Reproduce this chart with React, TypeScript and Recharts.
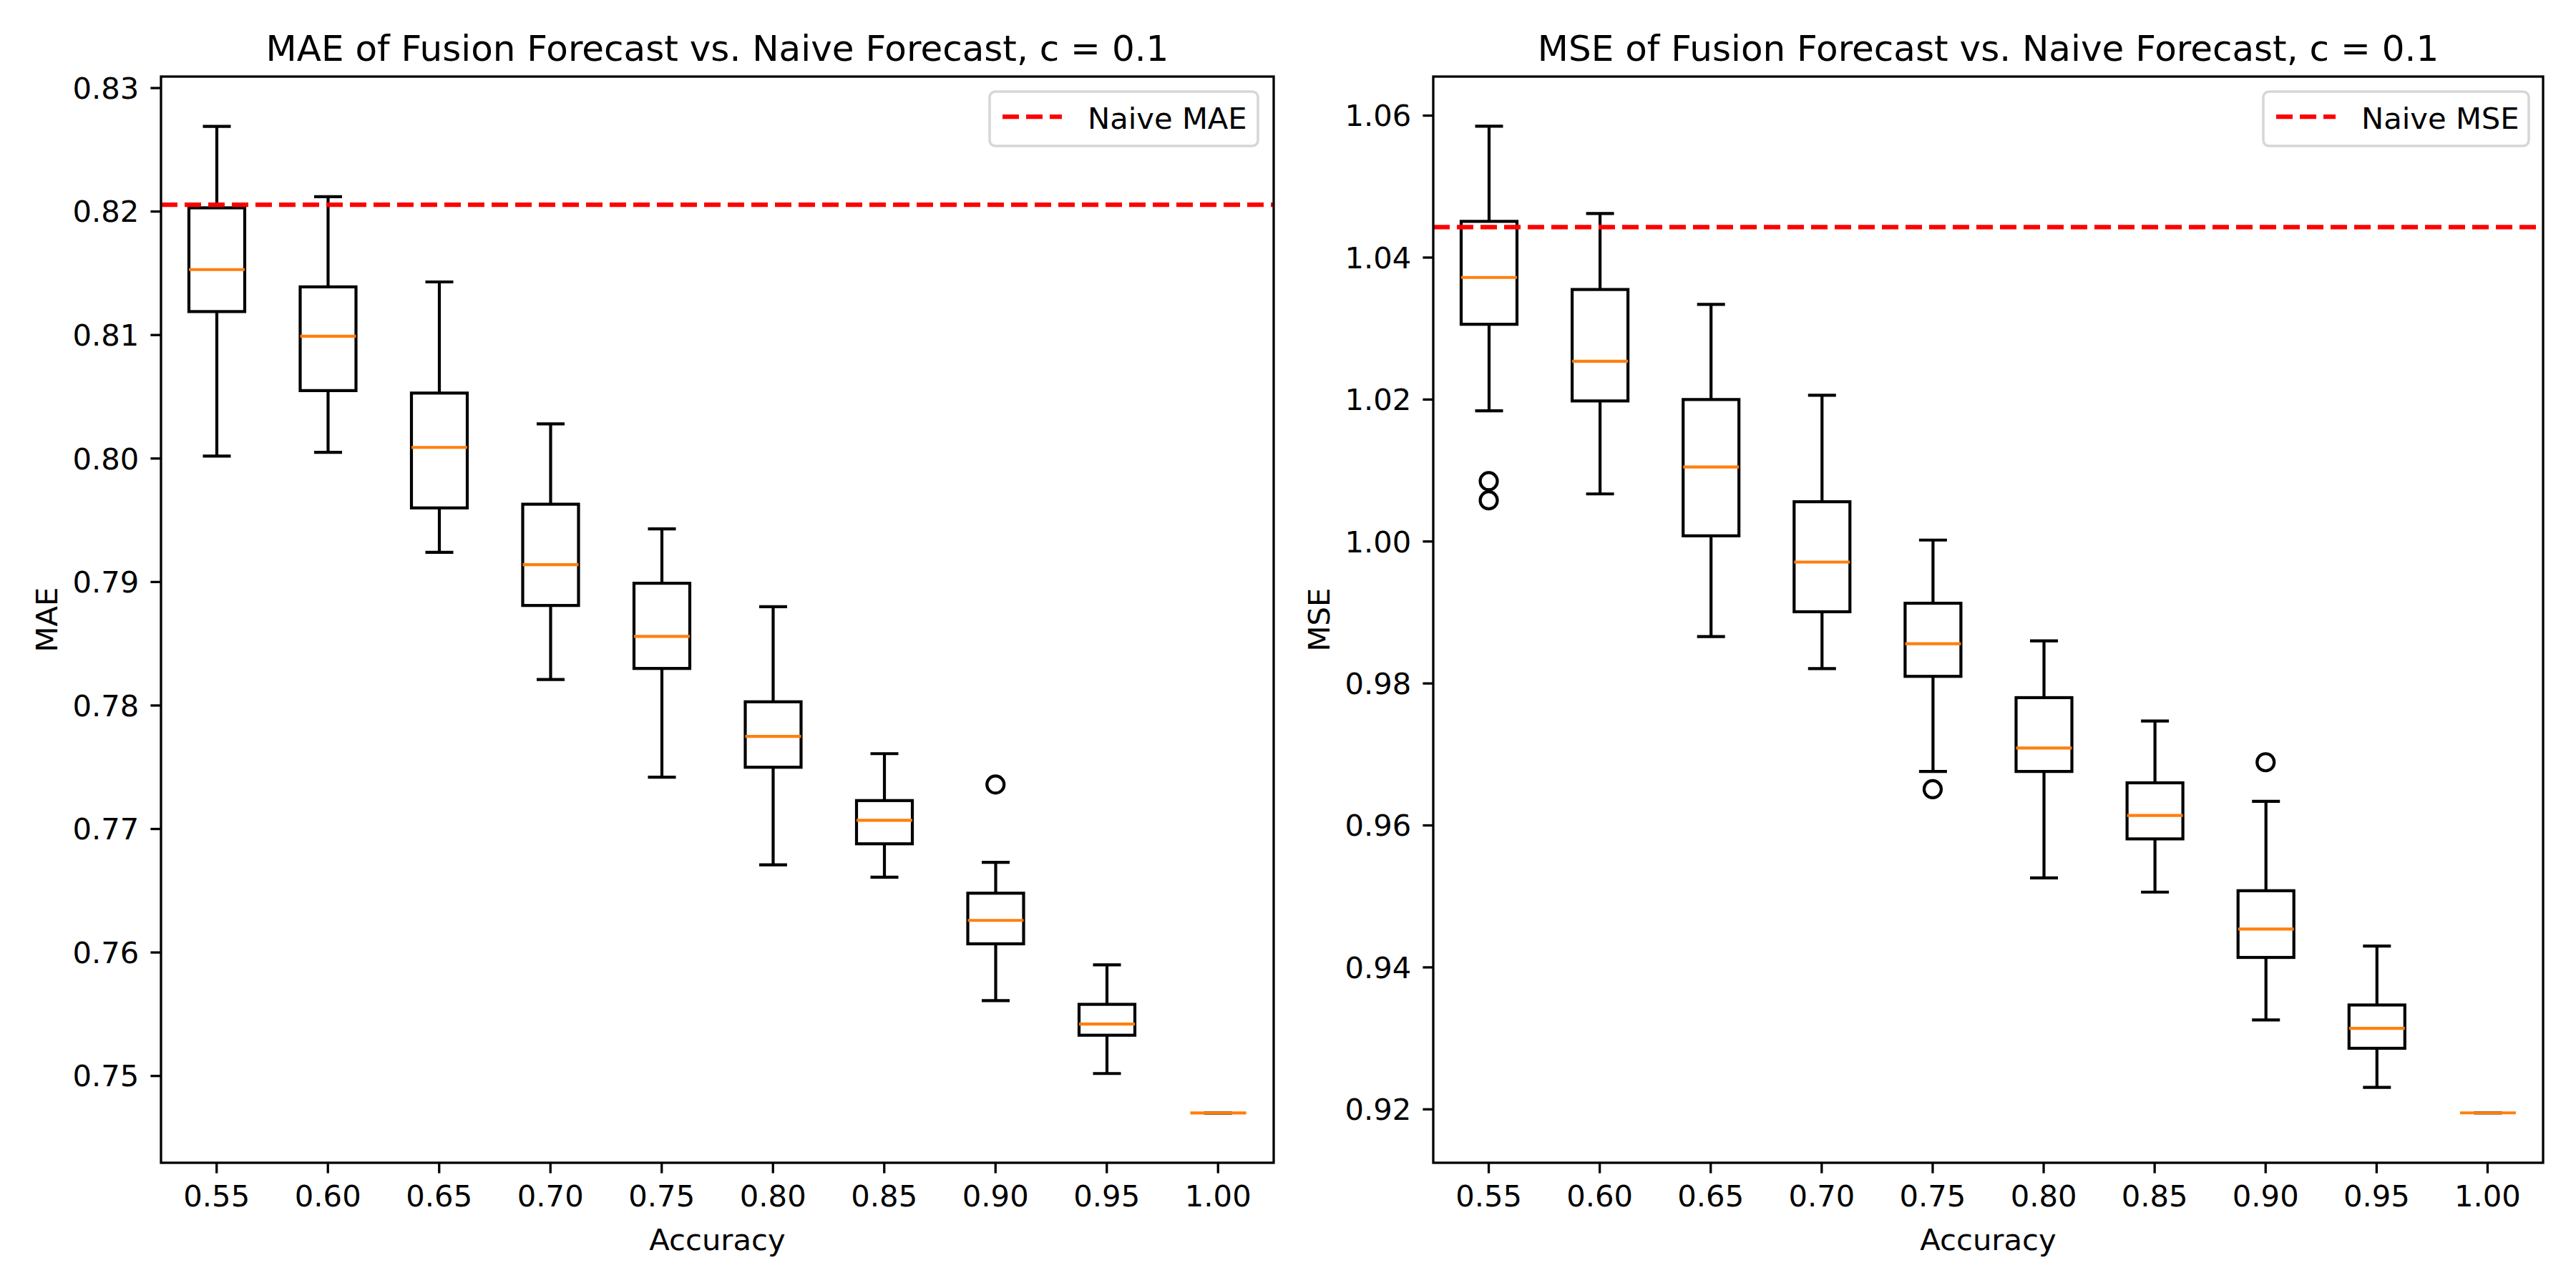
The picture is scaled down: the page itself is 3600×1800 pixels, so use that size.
import React from "react";
import {
  ComposedChart,
  Bar,
  Line,
  XAxis,
  YAxis,
  ReferenceLine,
} from "recharts";

const accuracy = ["0.55", "0.60", "0.65", "0.70", "0.75", "0.80", "0.85", "0.90", "0.95", "1.00"];

// MAE boxplot stats
const maeLow = [0.8002, 0.8005, 0.7924, 0.7821, 0.7742, 0.7671, 0.7661, 0.7561, 0.7502, 0.747];
const maeQ1 = [0.8119, 0.8055, 0.796, 0.7881, 0.783, 0.775, 0.7688, 0.7607, 0.7533, 0.747];
const maeMed = [0.8153, 0.8099, 0.8009, 0.7914, 0.7856, 0.7775, 0.7707, 0.7626, 0.7542, 0.747];
const maeQ3 = [0.8203, 0.8139, 0.8053, 0.7963, 0.7899, 0.7803, 0.7723, 0.7648, 0.7558, 0.747];
const maeHigh = [0.8269, 0.8212, 0.8143, 0.8028, 0.7943, 0.788, 0.7761, 0.7673, 0.759, 0.747];
const maeOutliers = [[], [], [], [], [], [], [], [0.7736], [], []];
const naiveMae = 0.82055;
const maeTicks = [0.75, 0.76, 0.77, 0.78, 0.79, 0.8, 0.81, 0.82, 0.83];

// MSE boxplot stats
const mseLow = [1.0184, 1.0067, 0.9866, 0.9821, 0.9676, 0.9526, 0.9506, 0.9326, 0.9231, 0.9195];
const mseQ1 = [1.0306, 1.0198, 1.0008, 0.9901, 0.981, 0.9676, 0.9581, 0.9414, 0.9286, 0.9195];
const mseMed = [1.0372, 1.0254, 1.0105, 0.9971, 0.9856, 0.9709, 0.9614, 0.9454, 0.9314, 0.9195];
const mseQ3 = [1.0451, 1.0355, 1.02, 1.0056, 0.9913, 0.978, 0.966, 0.9508, 0.9347, 0.9195];
const mseHigh = [1.0585, 1.0462, 1.0334, 1.0206, 1.0002, 0.986, 0.9747, 0.9634, 0.943, 0.9195];
const mseOutliers = [[1.0085, 1.0058], [], [], [], [0.9651], [], [], [0.9689], [], []];
const naiveMse = 1.0443;
const mseTicks = [0.92, 0.94, 0.96, 0.98, 1.0, 1.02, 1.04, 1.06];

const FONT = "DejaVu Sans";
const FS = 41.7;
const LW = 4.2;

function buildRows(low, q1, med, q3, high, outs) {
  return accuracy.map((acc, i) => ({
    acc,
    range: [low[i], high[i]],
    q1: q1[i],
    med: med[i],
    q3: q3[i],
    out1: outs[i][0] ?? null,
    out2: outs[i][1] ?? null,
  }));
}

const maeRows = buildRows(maeLow, maeQ1, maeMed, maeQ3, maeHigh, maeOutliers);
const mseRows = buildRows(mseLow, mseQ1, mseMed, mseQ3, mseHigh, mseOutliers);

function BoxShape(props: any) {
  const { x, y, width, height, payload } = props;
  const [lo, hi] = payload.range;
  const top = Math.min(y, y + height);
  const bot = Math.max(y, y + height);
  const span = hi - lo;
  const toY = (v: number) => (span === 0 ? top : top + ((hi - v) / span) * (bot - top));
  const cx = x + width / 2;
  const cap = width / 4;
  const yq1 = toY(payload.q1);
  const yq3 = toY(payload.q3);
  const ym = toY(payload.med);
  return (
    <g>
      <line x1={cx} x2={cx} y1={top} y2={yq3} stroke="#000" strokeWidth={LW} />
      <line x1={cx} x2={cx} y1={yq1} y2={bot} stroke="#000" strokeWidth={LW} />
      <line x1={cx - cap} x2={cx + cap} y1={top} y2={top} stroke="#000" strokeWidth={LW} />
      <line x1={cx - cap} x2={cx + cap} y1={bot} y2={bot} stroke="#000" strokeWidth={LW} />
      <rect x={x} y={yq3} width={width} height={Math.max(0, yq1 - yq3)} fill="none" stroke="#000" strokeWidth={LW} />
      <line x1={x} x2={x + width} y1={ym} y2={ym} stroke="#ff7f0e" strokeWidth={LW} />
    </g>
  );
}

function Flier(props: any) {
  const { cx, cy, value, index } = props;
  if (value == null || cy == null || isNaN(cy)) return <g key={"f" + index} />;
  return <circle key={"f" + index} cx={cx} cy={cy} r={12} fill="none" stroke="#000" strokeWidth={LW} />;
}

function BoxChart({ rows, domain, ticks, naive, yWidth, rightMargin }) {
  const tickStyle = { fontSize: FS, fill: "#000", fontFamily: FONT };
  return (
    <ComposedChart
      width={1800}
      height={1800}
      data={rows}
      margin={{ top: 107, right: rightMargin, bottom: 0, left: 0 }}
    >
      <XAxis
        dataKey="acc"
        interval={0}
        height={175}
        axisLine={false}
        tickLine={{ stroke: "#000", strokeWidth: 3.3 }}
        tickSize={14.6}
        tickMargin={17}
        tick={tickStyle}
      />
      <YAxis
        type="number"
        domain={domain}
        allowDataOverflow
        ticks={ticks}
        width={yWidth}
        axisLine={false}
        tickLine={{ stroke: "#000", strokeWidth: 3.3 }}
        tickSize={14.6}
        tickMargin={16}
        tick={tickStyle}
        tickFormatter={(v) => Number(v).toFixed(2)}
      />
      <Bar dataKey="range" barSize={78} shape={<BoxShape />} isAnimationActive={false} />
      <Line dataKey="out1" stroke="none" dot={(p) => <Flier {...p} />} activeDot={false} isAnimationActive={false} />
      <Line dataKey="out2" stroke="none" dot={(p) => <Flier {...p} />} activeDot={false} isAnimationActive={false} />
      <ReferenceLine y={naive} stroke="#ff0000" strokeWidth={6.25} strokeDasharray="23 10" />
    </ComposedChart>
  );
}

function Legend({ x, y, w, label }) {
  return (
    <g>
      <rect x={x} y={y} width={w} height={76} rx={8} fill="#fff" fillOpacity={0.8} stroke="#cccccc" strokeOpacity={0.8} strokeWidth={3.5} />
      <line x1={x + 18} x2={x + 101} y1={y + 35} y2={y + 35} stroke="#ff0000" strokeWidth={6.25} strokeDasharray="23 10" />
      <text x={x + 137} y={y + 52} fontSize={FS} fontFamily={FONT} fill="#000">{label}</text>
    </g>
  );
}

export default function App() {
  return (
    <div style={{ position: "absolute", left: 0, top: 0, width: 3600, height: 1800, background: "#fff" }}>
      <div style={{ position: "absolute", left: 0, top: 0 }}>
        <BoxChart rows={maeRows} domain={[0.74297, 0.83093]} ticks={maeTicks} naive={naiveMae} yWidth={225} rightMargin={20} />
      </div>
      <div style={{ position: "absolute", left: 1800, top: 0 }}>
        <BoxChart rows={mseRows} domain={[0.91247, 1.0655]} ticks={mseTicks} naive={naiveMse} yWidth={203} rightMargin={46} />
      </div>
      <svg width={3600} height={1800} style={{ position: "absolute", left: 0, top: 0, pointerEvents: "none" }}>
        <rect x={225} y={107} width={1555} height={1518} fill="none" stroke="#000" strokeWidth={3.3} />
        <rect x={2003} y={107} width={1551} height={1518} fill="none" stroke="#000" strokeWidth={3.3} />
        <text x={1002.5} y={85} textAnchor="middle" fontSize={50} fontFamily={FONT} fill="#000">
          MAE of Fusion Forecast vs. Naive Forecast, c = 0.1
        </text>
        <text x={2778.5} y={85} textAnchor="middle" fontSize={50} fontFamily={FONT} fill="#000">
          MSE of Fusion Forecast vs. Naive Forecast, c = 0.1
        </text>
        <text x={1002.5} y={1747} textAnchor="middle" fontSize={FS} fontFamily={FONT} fill="#000">Accuracy</text>
        <text x={2778.5} y={1747} textAnchor="middle" fontSize={FS} fontFamily={FONT} fill="#000">Accuracy</text>
        <text x={80} y={866} transform="rotate(-90 80 866)" textAnchor="middle" fontSize={FS} fontFamily={FONT} fill="#000">MAE</text>
        <text x={1858} y={866} transform="rotate(-90 1858 866)" textAnchor="middle" fontSize={FS} fontFamily={FONT} fill="#000">MSE</text>
        <Legend x={1383} y={128} w={375} label="Naive MAE" />
        <Legend x={3163} y={128} w={371} label="Naive MSE" />
      </svg>
    </div>
  );
}
